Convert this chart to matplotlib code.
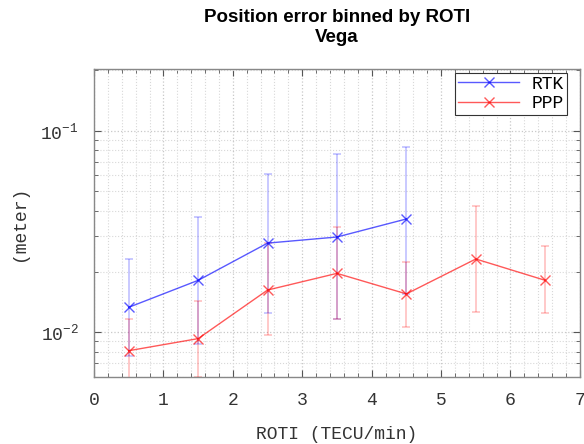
import numpy as np
import matplotlib
matplotlib.use("Agg")
import matplotlib.pyplot as plt
from matplotlib.ticker import LogLocator, FuncFormatter, MultipleLocator

# ROTI bin centres
roti_rtk = [0.5, 1.5, 2.5, 3.5, 4.5]
roti_ppp = [0.5, 1.5, 2.5, 3.5, 4.5, 5.5, 6.5]

# median position error (m) and spread limits
rtk_err = [0.0133, 0.0181, 0.0277, 0.0297, 0.0365]
rtk_low = [0.0076, 0.0087, 0.0125, 0.0116, 0.0155]
rtk_high = [0.0230, 0.0375, 0.0608, 0.0769, 0.0835]

ppp_err = [0.0081, 0.0093, 0.0162, 0.0196, 0.0155, 0.0231, 0.0181]
ppp_low = [0.0050, 0.0060, 0.0097, 0.0116, 0.0106, 0.0126, 0.0124]
ppp_high = [0.0116, 0.0143, 0.0277, 0.0332, 0.0224, 0.0424, 0.0268]

mono = "Liberation Mono"


def main():
    fig = plt.figure(figsize=(5.84, 4.44), dpi=100)
    ax = fig.add_axes([0.161, 0.151, 0.832, 0.694])

    for x, y, lo, hi, col in [(roti_rtk, rtk_err, rtk_low, rtk_high, "blue"),
                              (roti_ppp, ppp_err, ppp_low, ppp_high, "red")]:
        y = np.array(y)
        yerr = [y - np.array(lo), np.array(hi) - y]
        ax.errorbar(x, y, yerr=yerr, fmt="none", ecolor=col, alpha=0.25,
                    elinewidth=1.2, capsize=3, capthick=1.2)

    ax.plot(roti_rtk, rtk_err, color="blue", alpha=0.65, marker="x",
            markersize=7, lw=1.0, label="RTK")
    ax.plot(roti_ppp, ppp_err, color="red", alpha=0.65, marker="x",
            markersize=7, lw=1.0, label="PPP")

    ax.set_yscale("log")
    ax.set_xlim(0, 7)
    ax.set_ylim(0.006, 0.203)
    ax.xaxis.set_major_locator(MultipleLocator(1))
    ax.xaxis.set_minor_locator(MultipleLocator(0.2))
    ax.yaxis.set_major_locator(LogLocator(base=10, numticks=10))
    ax.yaxis.set_minor_locator(LogLocator(base=10, subs=np.arange(2, 10), numticks=10))
    ax.yaxis.set_minor_formatter(FuncFormatter(lambda v, p: ""))
    ax.yaxis.set_major_formatter(FuncFormatter(
        lambda v, p: r"$\mathregular{10^{%d}}$" % int(round(np.log10(v)))))

    ax.grid(True, which="major", color="#c8c8c8", linestyle=":", lw=0.9)
    ax.grid(True, which="minor", color="#d8d8d8", linestyle=":", lw=0.8)
    ax.set_axisbelow(True)

    ax.tick_params(which="both", direction="in", top=True, right=True,
                   colors="#555555", labelcolor="#333333")
    ax.tick_params(which="major", length=5, labelsize=13, pad=11)
    ax.tick_params(which="minor", length=3)
    for lab in ax.get_xticklabels() + ax.get_yticklabels():
        lab.set_family(mono)
    for s in ax.spines.values():
        s.set_color("#888888")
        s.set_linewidth(1.0)

    ax.set_xlabel("ROTI (TECU/min)", family=mono, fontsize=13, color="#333333",
                  labelpad=12)
    ax.set_ylabel("(meter)", family=mono, fontsize=13, color="#333333", labelpad=9)
    ax.set_title("Position error binned by ROTI\nVega", fontsize=13.5,
                 fontweight="bold", family="Liberation Sans", linespacing=1.3,
                 pad=19)

    leg = ax.legend(loc="upper right", bbox_to_anchor=(0.973, 0.987),
                    borderaxespad=0, prop={"family": mono, "size": 13},
                    fancybox=False, framealpha=1, edgecolor="#333333",
                    handlelength=3.4, handletextpad=0.7, labelspacing=0.15,
                    borderpad=0.15)
    leg.get_frame().set_linewidth(0.8)

    plt.savefig("out.png", dpi=100)


if __name__ == "__main__":
    main()
